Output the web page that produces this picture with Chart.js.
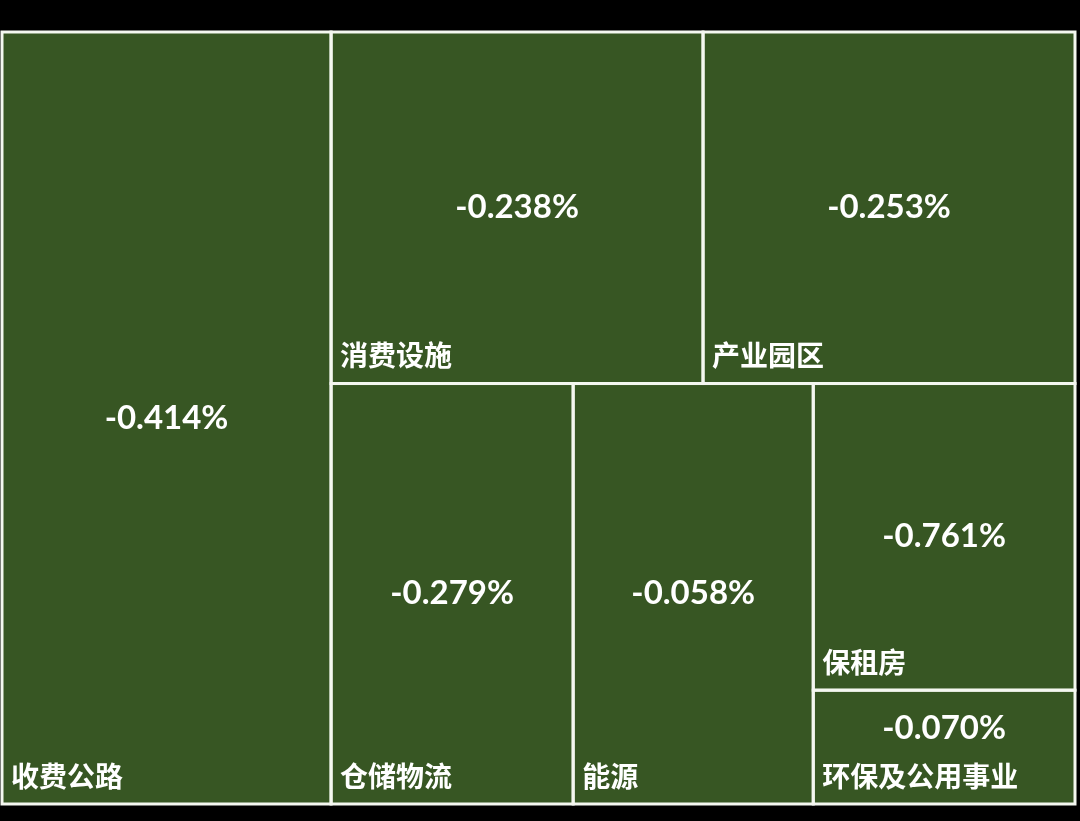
<!DOCTYPE html>
<html>
<head>
<meta charset="utf-8">
<script src="https://cdn.jsdelivr.net/npm/chart.js@4.4.1/dist/chart.umd.min.js"></script>
<style>
  html, body { margin: 0; padding: 0; background: #000; }
  #wrap { width: 1080px; height: 821px; }
</style>
</head>
<body>
<div id="wrap"><canvas id="myChart"></canvas></div>
<script>
// tile weights (share of total area)
var categories = ['收费公路', '消费设施', '产业园区', '仓储物流', '能源', '保租房', '环保及公用事业'];
var weights = [30.7, 15.8, 15.8, 12.3, 12.2, 9.7, 3.6];
var changes = [-0.414, -0.238, -0.253, -0.279, -0.058, -0.761, -0.070];

function worst(row, side) {
  var s = 0, mx = -Infinity, mn = Infinity;
  row.forEach(function (a) { s += a; mx = Math.max(mx, a); mn = Math.min(mn, a); });
  return Math.max(side * side * mx / (s * s), (s * s) / (side * side * mn));
}

function placeRow(row, rect, out) {
  var s = row.reduce(function (a, b) { return a + b; }, 0);
  if (rect.w >= rect.h) {
    var cw = s / rect.h, y = rect.y;
    row.forEach(function (a) { var hh = a / cw; out.push({ x: rect.x, y: y, w: cw, h: hh }); y += hh; });
    return { x: rect.x + cw, y: rect.y, w: rect.w - cw, h: rect.h };
  }
  var rh = s / rect.w, x = rect.x;
  row.forEach(function (a) { var ww = a / rh; out.push({ x: x, y: rect.y, w: ww, h: rh }); x += ww; });
  return { x: rect.x, y: rect.y + rh, w: rect.w, h: rect.h - rh };
}

// biggest tile gets its own strip, the rest is squarified
function layout(vals, W, H) {
  var total = vals.reduce(function (a, b) { return a + b; }, 0);
  var areas = vals.map(function (v) { return v / total * W * H; });
  var out = [];
  var rect = placeRow([areas[0]], { x: 0, y: 0, w: W, h: H }, out);
  var i = 1;
  while (i < areas.length) {
    var side = Math.min(rect.w, rect.h);
    var row = [areas[i]], j = i + 1;
    while (j < areas.length && worst(row.concat(areas[j]), side) <= worst(row, side)) {
      row.push(areas[j]); j++;
    }
    rect = placeRow(row, rect, out);
    i = j;
  }
  // to scale units (0..100)
  return out.map(function (r) {
    return { x0: r.x / W * 100, x1: (r.x + r.w) / W * 100, y0: r.y / H * 100, y1: (r.y + r.h) / H * 100 };
  });
}

var treemapPlugin = {
  id: 'treemap',
  afterDatasetsDraw: function (chart) {
    var ctx = chart.ctx, ca = chart.chartArea;
    var sx = chart.scales.x, sy = chart.scales.y;
    var tiles = layout(weights, ca.right - ca.left, ca.bottom - ca.top);
    ctx.save();
    var boxes = tiles.map(function (t) {
      var l = sx.getPixelForValue(t.x0), r = sx.getPixelForValue(t.x1);
      var tp = sy.getPixelForValue(t.y0), b = sy.getPixelForValue(t.y1);
      return { l: l, r: r, t: tp, b: b };
    });
    boxes.forEach(function (bx) {
      ctx.fillStyle = '#375623';
      ctx.fillRect(bx.l, bx.t, bx.r - bx.l, bx.b - bx.t);
    });
    ctx.strokeStyle = '#f4f7f0';
    ctx.lineWidth = 3;
    boxes.forEach(function (bx) {
      ctx.strokeRect(bx.l, bx.t, bx.r - bx.l, bx.b - bx.t);
    });
    ctx.fillStyle = '#ffffff';
    boxes.forEach(function (bx, i) {
      ctx.textBaseline = 'middle';
      ctx.textAlign = 'left';
      ctx.font = 'bold 28px "Noto Sans CJK SC"';
      var nameY = bx.b - 28;
      ctx.fillText(categories[i], bx.l + 9, nameY);
      ctx.textAlign = 'center';
      ctx.font = 'bold 33px Lato';
      var py = Math.min((bx.t + bx.b) / 2, nameY - 48);
      ctx.fillText(changes[i].toFixed(3) + '%', (bx.l + bx.r) / 2, py);
    });
    ctx.restore();
  }
};

var chart = new Chart(document.getElementById('myChart'), {
  type: 'scatter',
  data: { datasets: [{ data: [] }] },
  options: {
    responsive: true,
    maintainAspectRatio: false,
    animation: false,
    layout: { padding: { left: 2, top: 32, right: 5, bottom: 17 } },
    scales: {
      x: { type: 'linear', min: 0, max: 100, display: false },
      y: { type: 'linear', min: 0, max: 100, reverse: true, display: false }
    },
    plugins: { legend: { display: false }, tooltip: { enabled: false } }
  },
  plugins: [treemapPlugin]
});
</script>
</body>
</html>
